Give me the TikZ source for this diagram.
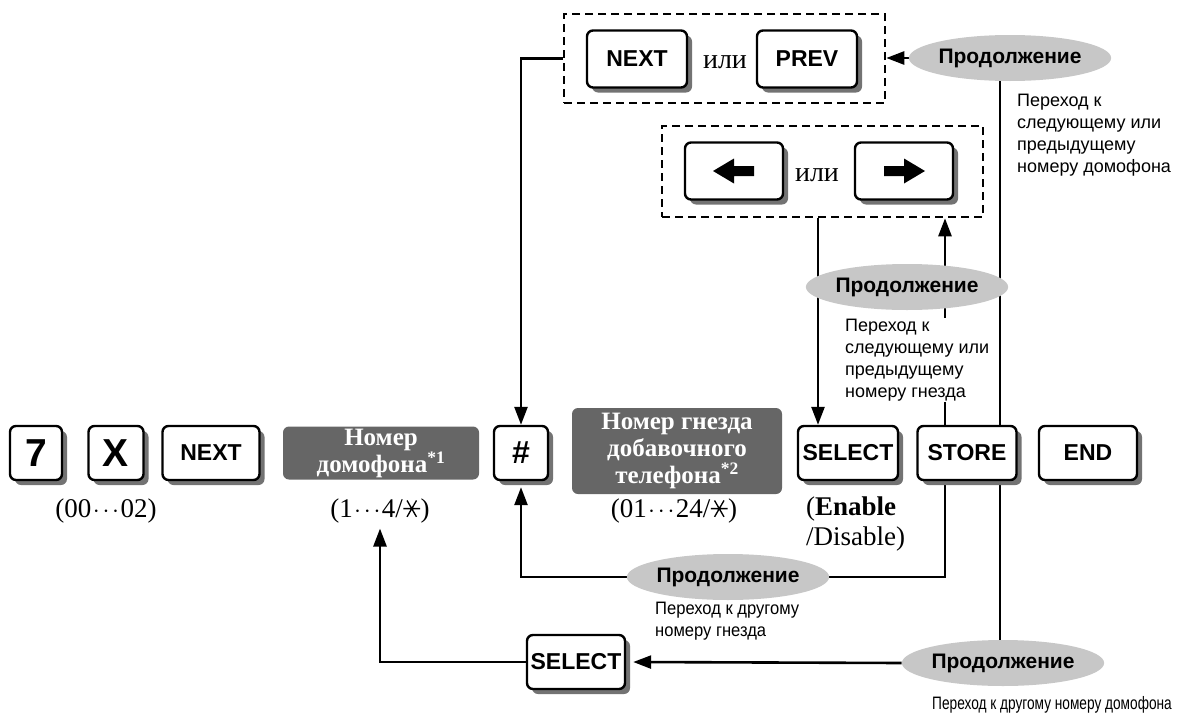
\documentclass[tikz,border=0pt]{standalone}
\usepackage{fontspec}
\setmainfont{Liberation Serif}
\setsansfont{Liberation Sans}
\newfontfamily\narrowsans[FakeStretch=0.92]{Liberation Sans}
\newfontfamily\narrowersans[FakeStretch=0.76]{Liberation Sans}
\usetikzlibrary{arrows.meta,shapes.geometric,shadows,calc,backgrounds}
\newcommand\sixstar{\tikz[x=1em,y=1em,baseline=0pt]{\useasboundingbox (0,0) rectangle (0.66,0.7);\draw[line width=0.05em] (0.33,0.33)+(0:0.31)--+(180:0.31) (0.33,0.33)+(60:0.35)--+(240:0.35) (0.33,0.33)+(120:0.35)--+(300:0.35);}}
\newcommand\mydots{$\mkern1mu{\cdot}\mkern2mu{\cdot}\mkern2mu{\cdot}\mkern1mu$}
\begin{document}
\begin{tikzpicture}[x=1pt,y=-1pt,
  keybox/.style={draw,line width=2.4pt,rounded corners=6pt,fill=white,
    font=\sffamily\bfseries\fontsize{23}{26}\selectfont,
    minimum height=54pt,inner sep=0pt,
    drop shadow={shadow xshift=5pt,shadow yshift=-5pt,fill=black!55,opacity=1}},
  darkbox/.style={fill=black!60,rounded corners=6pt,text=white,align=center,inner sep=0pt,
    font=\rmfamily\bfseries\fontsize{25}{27}\selectfont},
  contin/.style={ellipse,fill=black!22,inner sep=0pt,minimum width=162pt,minimum height=46pt,
    font=\sffamily\bfseries\fontsize{21}{24}\selectfont},
  desc/.style={font=\sffamily\fontsize{18}{22}\selectfont,align=left,inner sep=0pt},
  narrowdesc/.style={font=\narrowsans\fontsize{18}{21.5}\selectfont,align=left,inner sep=0pt},
  narrowerdesc/.style={font=\narrowersans\fontsize{18}{21.5}\selectfont,align=left,inner sep=0pt},
  lab/.style={font=\rmfamily\fontsize{27}{30}\selectfont,inner sep=0pt},
  orword/.style={font=\rmfamily\fontsize{28}{30}\selectfont,inner sep=0pt},
  dashbox/.style={draw,line width=2.6pt,dash pattern=on 8pt off 5pt,inner sep=0pt},
  flow/.style={line width=2.6pt},
  arr/.style={line width=2.6pt,-{Triangle[length=18pt,width=13pt]}}]
\useasboundingbox (0,0) rectangle (1181,715);

% bottom row
\node[keybox,minimum width=52pt,font=\sffamily\bfseries\fontsize{39}{40}\selectfont] (k7) at (36,453) {7};
\node[keybox,minimum width=55pt,font=\sffamily\bfseries\fontsize{39}{40}\selectfont] (kX) at (116,453) {X};
\node[keybox,minimum width=97pt] (kNext) at (211,453) {NEXT};
\node[darkbox,minimum width=196pt,minimum height=53pt] (bDom) at (381,453) {Номер\\домофона\textsuperscript{*1}};
\node[keybox,minimum width=54pt,font=\sffamily\bfseries\fontsize{32}{34}\selectfont] (kHash) at (521,453) {\#};
\node[darkbox,minimum width=210pt,minimum height=86pt] (bExt) at (677,451) {Номер гнезда\\добавочного\\телефона\textsuperscript{*2}};
\node[keybox,minimum width=100pt] (kSel) at (848,453) {SELECT};
\node[keybox,minimum width=99pt] (kStore) at (967,453) {STORE};
\node[keybox,minimum width=98pt] (kEnd) at (1088,453) {END};

\node[lab] (l00) at (106,511) {(00\mydots02)};
\node[lab] (l14) at (380,511) {(1\mydots4/\sixstar)};
\node[lab] (l24) at (674,511) {(01\mydots24/\sixstar)};
\node[lab,anchor=north west,align=left] (lEn) at (806,497) {(\textbf{Enable}\\/Disable)};

% top box
\node[dashbox,minimum width=321pt,minimum height=89pt] (topbox) at (724.5,58.5) {};
\node[keybox,minimum width=100pt,minimum height=57pt] (kNext2) at (637,59) {NEXT};
\node[orword] (or1) at (725,62) {или};
\node[keybox,minimum width=100pt,minimum height=57pt] (kPrev) at (807,59) {PREV};
\node[contin] (cTop) at (1010,58) {Продолжение};
\node[desc,anchor=north west] (dTop) at (1017,94) {Переход к\\следующему или\\предыдущему\\номеру домофона};

% arrows box
\node[dashbox,minimum width=321pt,minimum height=91pt] (arrbox) at (822.5,171.5) {};
\node[keybox,minimum width=98pt,minimum height=57pt] (kLeft) at (734,171) {};
\node[orword] (or2) at (817,175) {или};
\node[keybox,minimum width=98pt,minimum height=57pt] (kRight) at (904,171) {};
\fill (kLeft.center) ++(-21,0) -- ++(21,-12.5) -- ++(0,7.5) -- ++(20,0) -- ++(0,10) -- ++(-20,0) -- ++(0,7.5) -- cycle;
\fill (kRight.center) ++(21,0) -- ++(-21,-12.5) -- ++(0,7.5) -- ++(-20,0) -- ++(0,10) -- ++(20,0) -- ++(0,7.5) -- cycle;

\node[contin] (cMid) at (907,287) {Продолжение};
\node[desc,anchor=north west,fill=white,inner ysep=1pt] (dMid) at (845,318) {Переход к\\следующему или\\предыдущему\\номеру гнезда};

% bottom
\node[contin] (cMid2) at (728,577) {Продолжение};
\node[narrowdesc,anchor=north west] (dMid2) at (655,602) {Переход к другому\\номеру гнезда};
\node[keybox,minimum width=98pt] (kSel2) at (576,662) {SELECT};
\node[contin] (cBot) at (1003,663) {Продолжение};
\node[narrowerdesc] (dBot) at (1052,705) {Переход к другому номеру домофона};

\coordinate (xa) at (818,0);
\coordinate (xb) at (945,0);
\coordinate (xc) at (1000,0);

\begin{scope}[on background layer]
\draw[arr] (topbox.west) -| (kHash.north);
\draw[arr] (cTop.west) -- (cTop.west -| topbox.east);
\draw[flow] (xc |- cTop.center) -- (xc |- cBot.center);
\draw[arr] (xa |- arrbox.south) -- (xa |- kSel.north);
\draw[arr] (xb |- kStore.north) -- (xb |- arrbox.south);
\draw[arr] (xb |- kStore.south) -- (xb |- cMid2.center) -| ([yshift=-6pt]kHash.south);
\draw[arr] (cBot.west) -- ([xshift=7pt]kSel2.east);
\draw[arr] (kSel2.west) -| ([yshift=-5pt]l14.south);
\end{scope}
\end{tikzpicture}
\end{document}
